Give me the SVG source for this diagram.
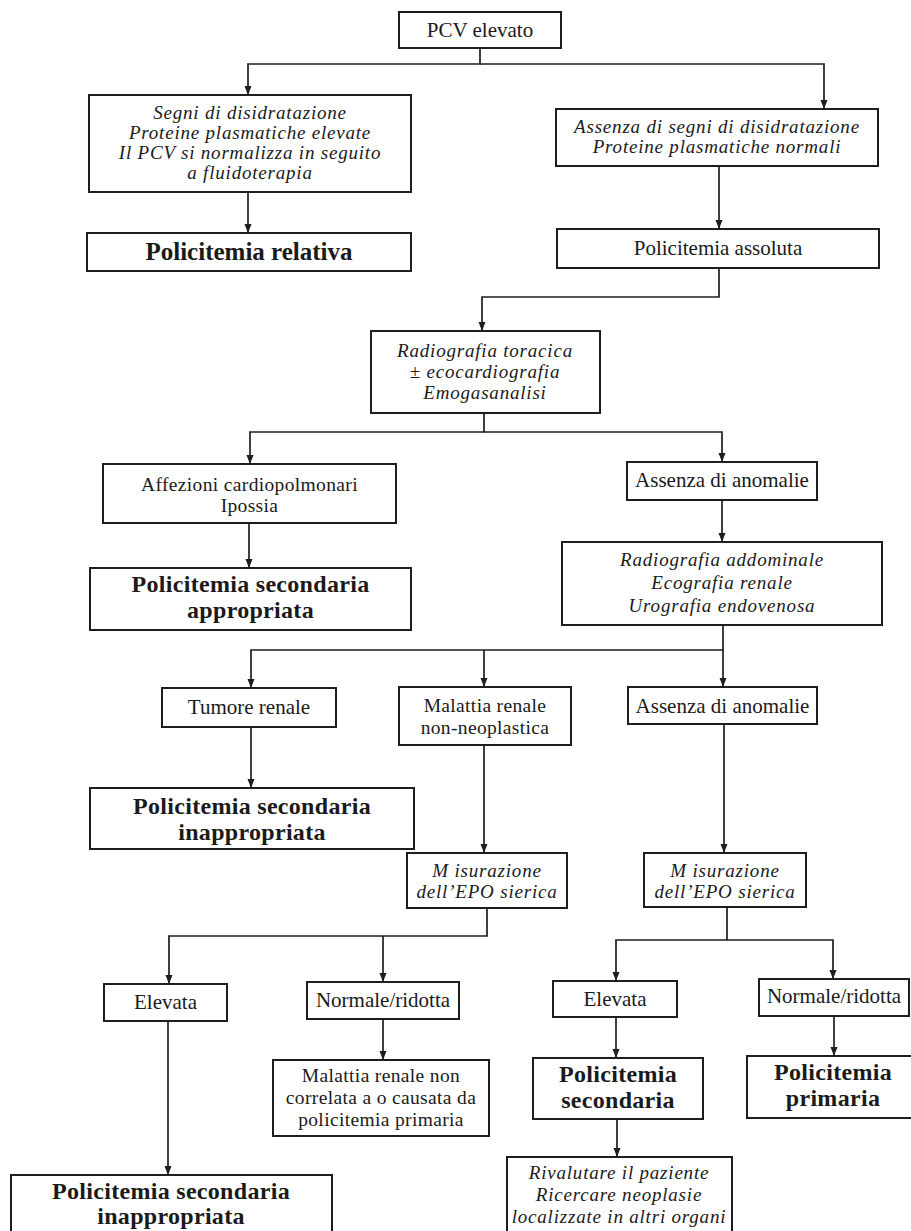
<svg xmlns="http://www.w3.org/2000/svg" width="911" height="1231" viewBox="0 0 911 1231">
<style>
.box{fill:#fff;stroke:#1e1e1e;stroke-width:2}
.c{fill:none;stroke:#1e1e1e;stroke-width:1.7}
text{font-family:"Liberation Serif","Times New Roman",serif;fill:#1a1a1a;text-anchor:middle}
.r{font-size:21px}
.rm{font-size:19.5px;letter-spacing:0.35px}
.i{font-size:19px;font-style:italic;letter-spacing:0.8px}
.b{font-size:24px;font-weight:bold;letter-spacing:0.3px}
.bs{font-size:25px;font-weight:bold}
</style>
<defs>
<marker id="ah" markerUnits="userSpaceOnUse" markerWidth="10" markerHeight="8" refX="9" refY="3.5" orient="auto">
<path d="M0,0 L9,3.5 L0,7 z" fill="#1e1e1e"/>
</marker>
</defs>
<rect width="911" height="1231" fill="#fff"/>
<g id="connectors">
<path class="c" d="M480 48 V64 H248 V95" marker-end="url(#ah)"/>
<path class="c" d="M480 64 H824 V109" marker-end="url(#ah)"/>
<path class="c" d="M248 192 V233" marker-end="url(#ah)"/>
<path class="c" d="M719 166 V229" marker-end="url(#ah)"/>
<path class="c" d="M719 268 V297 H482 V331" marker-end="url(#ah)"/>
<path class="c" d="M484 413 V432 H250 V464" marker-end="url(#ah)"/>
<path class="c" d="M484 432 H722 V462" marker-end="url(#ah)"/>
<path class="c" d="M249 523 V568" marker-end="url(#ah)"/>
<path class="c" d="M722 500 V542" marker-end="url(#ah)"/>
<path class="c" d="M723 625 V650 H251 V688" marker-end="url(#ah)"/>
<path class="c" d="M723 650 V687" marker-end="url(#ah)"/>
<path class="c" d="M484 650 V687" marker-end="url(#ah)"/>
<path class="c" d="M251 727 V788" marker-end="url(#ah)"/>
<path class="c" d="M484 745 V853" marker-end="url(#ah)"/>
<path class="c" d="M724 724 V853" marker-end="url(#ah)"/>
<path class="c" d="M487 908 V936 H169 V984" marker-end="url(#ah)"/>
<path class="c" d="M383 936 V982" marker-end="url(#ah)"/>
<path class="c" d="M168 1021 V1175" marker-end="url(#ah)"/>
<path class="c" d="M383 1019 V1060" marker-end="url(#ah)"/>
<path class="c" d="M727 907 V940 H616 V981" marker-end="url(#ah)"/>
<path class="c" d="M727 940 H833 V979" marker-end="url(#ah)"/>
<path class="c" d="M616 1017 V1058" marker-end="url(#ah)"/>
<path class="c" d="M834 1016 V1056" marker-end="url(#ah)"/>
<path class="c" d="M617 1119 V1157" marker-end="url(#ah)"/>
</g>
<g id="n_pcv"><rect class="box" x="399" y="12" width="162" height="36"/><text class="r" x="480" y="37">PCV elevato</text></g>
<g id="n_segni"><rect class="box" x="89" y="95" width="322" height="97"/>
<text class="i" x="250" y="118.5">Segni di disidratazione</text>
<text class="i" x="250" y="138.5">Proteine plasmatiche elevate</text>
<text class="i" x="250" y="158.5">Il PCV si normalizza in seguito</text>
<text class="i" x="250" y="178.5">a fluidoterapia</text></g>
<g id="n_relativa"><rect class="box" x="87" y="233" width="324" height="38"/><text class="bs" x="249" y="260">Policitemia relativa</text></g>
<g id="n_assenza_segni"><rect class="box" x="556" y="109" width="322" height="57"/>
<text class="i" x="717" y="133">Assenza di segni di disidratazione</text>
<text class="i" x="717" y="153">Proteine plasmatiche normali</text></g>
<g id="n_assoluta"><rect class="box" x="557" y="229" width="322" height="39"/><text class="r" x="718" y="255">Policitemia assoluta</text></g>
<g id="n_radio_tor"><rect class="box" x="371" y="331" width="229" height="82"/>
<text class="i" x="485" y="357">Radiografia toracica</text>
<text class="i" x="485" y="378">± ecocardiografia</text>
<text class="i" x="485" y="399">Emogasanalisi</text></g>
<g id="n_affezioni"><rect class="box" x="103" y="464" width="293" height="59"/>
<text class="rm" x="249.5" y="491">Affezioni cardiopolmonari</text>
<text class="rm" x="249.5" y="512">Ipossia</text></g>
<g id="n_assenza1"><rect class="box" x="627" y="462" width="190" height="38"/><text class="r" x="722" y="487">Assenza di anomalie</text></g>
<g id="n_sec_appr"><rect class="box" x="90" y="568" width="321" height="62"/>
<text class="b" x="250.5" y="592">Policitemia secondaria</text>
<text class="b" x="250.5" y="618">appropriata</text></g>
<g id="n_radio_add"><rect class="box" x="562" y="542" width="320" height="83"/>
<text class="i" x="722" y="566">Radiografia addominale</text>
<text class="i" x="722" y="589">Ecografia renale</text>
<text class="i" x="722" y="612">Urografia endovenosa</text></g>
<g id="n_tumore"><rect class="box" x="162" y="688" width="174" height="39"/><text class="r" x="249" y="714">Tumore renale</text></g>
<g id="n_malattia"><rect class="box" x="399" y="687" width="172" height="58"/>
<text class="rm" x="485" y="711.5">Malattia renale</text>
<text class="rm" x="485" y="733.5">non-neoplastica</text></g>
<g id="n_assenza2"><rect class="box" x="628" y="687" width="189" height="37"/><text class="r" x="722.5" y="712.5">Assenza di anomalie</text></g>
<g id="n_sec_inappr1"><rect class="box" x="90" y="788" width="324" height="61"/>
<text class="b" x="252" y="814">Policitemia secondaria</text>
<text class="b" x="252" y="840">inappropriata</text></g>
<g id="n_mis1"><rect class="box" x="407" y="853" width="160" height="55"/>
<text class="i" x="487" y="877">M isurazione</text>
<text class="i" x="487" y="898">dell’EPO sierica</text></g>
<g id="n_mis2"><rect class="box" x="644" y="853" width="162" height="54"/>
<text class="i" x="725" y="877">M isurazione</text>
<text class="i" x="725" y="898">dell’EPO sierica</text></g>
<g id="n_elev1"><rect class="box" x="104" y="984" width="123" height="37"/><text class="r" x="165.5" y="1009">Elevata</text></g>
<g id="n_norm1"><rect class="box" x="307" y="982" width="152" height="37"/><text class="r" x="383" y="1007">Normale/ridotta</text></g>
<g id="n_elev2"><rect class="box" x="553" y="981" width="124" height="36"/><text class="r" x="615" y="1006">Elevata</text></g>
<g id="n_norm2"><rect class="box" x="759" y="979" width="150" height="37"/><text class="r" x="834" y="1003">Normale/ridotta</text></g>
<g id="n_mal_nc"><rect class="box" x="273" y="1060" width="216" height="76"/>
<text class="rm" x="381" y="1082">Malattia renale non</text>
<text class="rm" x="381" y="1104">correlata a o causata da</text>
<text class="rm" x="381" y="1126">policitemia primaria</text></g>
<g id="n_pol_sec"><rect class="box" x="533" y="1058" width="170" height="61"/>
<text class="b" x="618" y="1082">Policitemia</text>
<text class="b" x="618" y="1108">secondaria</text></g>
<g id="n_pol_prim"><rect class="box" x="747" y="1056" width="173" height="62"/>
<text class="b" x="833" y="1080">Policitemia</text>
<text class="b" x="833" y="1106">primaria</text></g>
<g id="n_sec_inappr2"><rect class="box" x="11" y="1175" width="321" height="62"/>
<text class="b" x="171" y="1199">Policitemia secondaria</text>
<text class="b" x="171" y="1224">inappropriata</text></g>
<g id="n_rivalutare"><rect class="box" x="507" y="1157" width="225" height="80"/>
<text class="i" x="619" y="1179">Rivalutare il paziente</text>
<text class="i" x="619" y="1201">Ricercare neoplasie</text>
<text class="i" x="619" y="1223">localizzate in altri organi</text></g>
</svg>
